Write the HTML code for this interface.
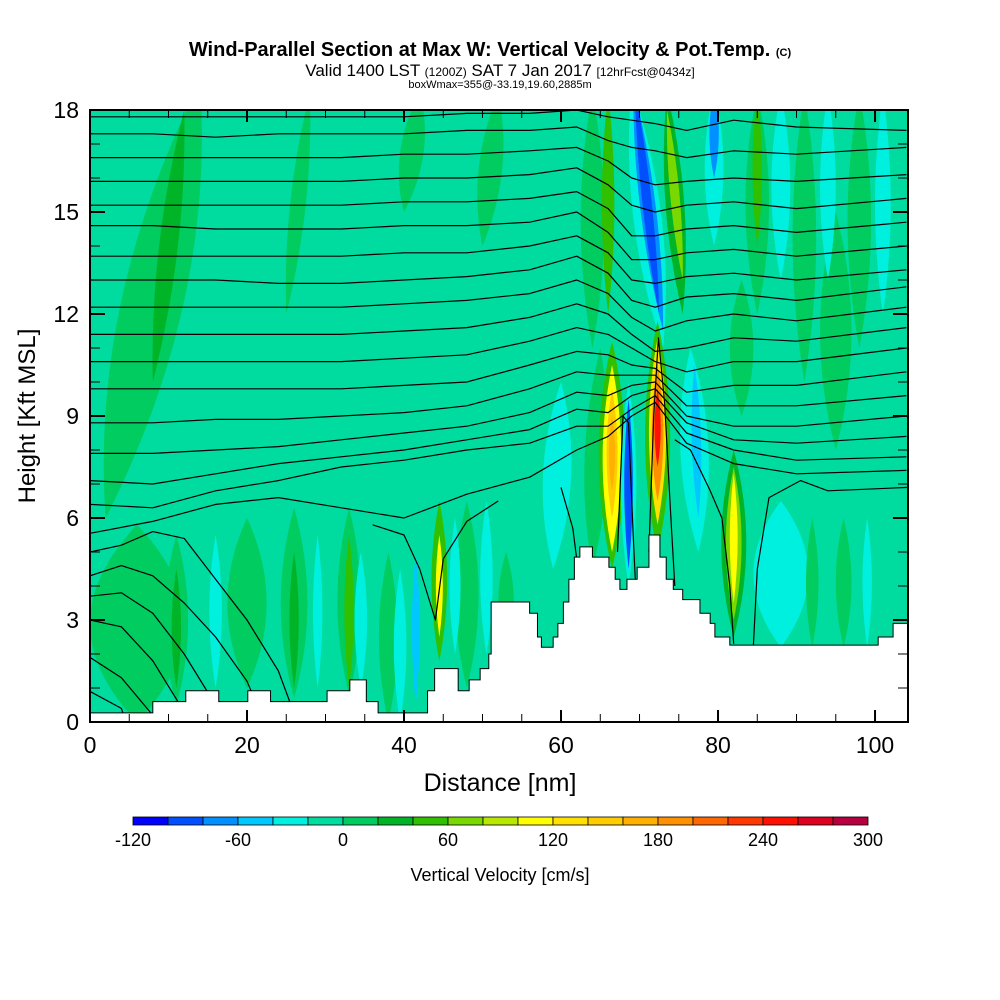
<!DOCTYPE html>
<html><head><meta charset="utf-8"><style>
html,body{margin:0;padding:0;background:#fff;}
svg{display:block;font-family:"Liberation Sans",sans-serif;}
</style></head><body>
<svg id="chart" width="1000" height="1000" viewBox="0 0 1000 1000" xmlns="http://www.w3.org/2000/svg">
<defs><clipPath id="plotclip"><rect x="90" y="110" width="818" height="612"/></clipPath></defs>
<g>
<text x="490" y="56" text-anchor="middle" font-size="20" font-weight="bold">Wind-Parallel Section at Max W: Vertical Velocity &amp; Pot.Temp. <tspan font-size="11">(C)</tspan></text>
<text x="500" y="76" text-anchor="middle" font-size="17">Valid 1400 LST <tspan font-size="12">(1200Z)</tspan> SAT 7 Jan 2017 <tspan font-size="12">[12hrFcst@0434z]</tspan></text>
<text x="500" y="88" text-anchor="middle" font-size="11">boxWmax=355@-33.19,19.60,2885m</text>
</g>
<rect x="90" y="110" width="818" height="612" fill="#00dca0"/>
<g id="fills" clip-path="url(#plotclip)"></g>
<g id="contours" clip-path="url(#plotclip)"></g>
<g id="terrain" clip-path="url(#plotclip)"></g>
<g id="axes"></g>
<rect x="90" y="110" width="818" height="612" fill="none" stroke="#000" stroke-width="2"/>
<text x="500" y="791" text-anchor="middle" font-size="25">Distance [nm]</text>
<text transform="translate(35,416) rotate(-90)" text-anchor="middle" font-size="24">Height [Kft MSL]</text>
<g id="colorbar"></g>
<text x="500" y="881" text-anchor="middle" font-size="18">Vertical Velocity [cm/s]</text>
</svg>
<script>
// ---- data ----
const xTicks = [0,20,40,60,80,100];
const yTicks = [0,3,6,9,12,15,18];
const cbLabels = [-120,-60,0,60,120,180,240,300];
const binColors = ["#0000ff","#0050ff","#0090ff","#00c8ff","#00f0e0","#00dca0","#00cc60","#00b428","#30c000","#78d800","#b8e800","#ffff00","#ffe000","#ffcc00","#ffb000","#ff9000","#ff6800","#ff3800","#ff1000","#e00020","#b80040"];
// terrain steps: start distance (nm) and height (kft)
const terrainStart = [0,8.0,12.2,16.4,20.1,23.0,30.2,33.1,35.2,36.7,43.0,43.9,46.9,48.3,49.7,50.8,51.1,56.0,57.0,57.5,59.0,59.6,60.3,61.0,61.7,62.4,64.0,66.1,66.9,67.5,68.4,69.7,71.2,72.6,73.4,74.3,75.5,77.7,79.0,79.6,81.5,100.4,102.3];
const terrainHeight = [0.27,0.6,0.92,0.6,0.92,0.6,0.92,1.24,0.6,0.27,0.92,1.57,0.92,1.24,1.57,2.0,3.53,3.2,2.5,2.2,2.5,2.9,3.53,4.2,4.85,5.15,4.85,4.55,4.2,3.9,4.2,4.55,5.5,4.85,4.2,3.9,3.6,3.2,2.9,2.5,2.26,2.5,2.9];
// velocity features: [xBottom, zBottom, xTop, zTop, halfWidth(nm), w(cm/s)]
const wFeatures = [
 [6,0,6,5.8,6,10],[20,1,20,6,2.5,10],[2,6,14,18.8,4,10],[8,10,12,18,1.2,30],[25,12,28,18.5,1.0,10],[40,15,42,18.5,1.5,10],[50,14,52,18.5,1.5,10],
 [11,0.5,11,5.5,1.5,10],[11,1,11,4.5,0.6,30],[26,0.7,26,6.3,1.7,10],[26,1,26,5,0.6,30],
 [33,0.8,33,6.3,1.5,10],[33,1,33,5.5,0.6,50],[38,0,38,5,1.2,10],[48,1,48,6.5,1.5,10],[53,2,53,5,1,10],
 [16,1,16,5.5,0.8,-30],[29,1,29,5.5,0.6,-30],[34.5,1,34.5,5,0.8,-30],[39.5,0,39.5,4.5,0.8,-30],[41.5,0.5,41.5,5,0.5,-50],
 [46.5,2,46.5,6,0.7,-30],[50.5,2,50.5,6.5,0.8,-30],
 [44.5,1.8,44.5,6.5,1.0,50],[44.5,2.5,44.5,5.5,0.45,110],
 [59,4.5,60,10,1.8,-30],[64,4.5,65,11,1.5,10],[95,8,95,15,2,10],
 [85,12,85,18.5,1.5,10],[85,14,85,18.5,0.6,50],[88,13,88,18.5,1.2,-30],
 [83,9,83,13,1.5,10],[91,10,91,18.5,1.5,10],[98,11,98,18.5,1.5,10],[101,12,101,18.5,1,-30],[94,13,94,18.5,1,-30],
 [88,2.2,88,6.5,3.5,-30],[92,2.2,92,6,0.8,10],[96,2.2,96,6,1,10],[99,2.2,99,6,0.6,-30],
 [77.5,5,76.5,11,1.8,-30],[77.5,6,77,10.5,0.6,-60],
 [82,2.5,82,8,1.6,30],[82,3,82,7.5,1.0,70],[82,3.5,82,7.3,0.5,110],
 [75.5,12,73.5,18.5,1.2,30],[75.5,13,73.5,18,0.6,70],
 [79.5,14,79.5,18.6,1.2,-30],[79.5,16,79.5,18.6,0.6,-80],
 [64,11,64,18.5,1.5,10],[66,12,66,18.5,0.8,50],
 [73,11,69,18.7,1.8,-30],[73,11.5,69.2,18.7,1.0,-70],[72.5,12,69.4,18.6,0.6,-100],
 [66.5,4.5,66.5,11.2,1.7,50],[66.5,5,66.5,10.5,1.2,110],[66.5,6,66.5,9.8,0.7,150],[66.5,6.8,66.5,9,0.4,170],
 [68.6,4,68.6,10,1.0,-30],[68.6,4.5,68.6,9.5,0.55,-90],
 [72.3,5,72.3,11.8,1.6,50],[72.3,5.8,72.3,11.3,1.1,130],[72.3,6.5,72.3,10.5,0.75,190],[72.3,7.5,72.3,9.8,0.4,250]
];
// potential temperature contours: heights (kft) at common distances
const contourX = [0,8,16,24,32,40,48,56,62,66,69,72,76,82,90,104];
const contourZ = [
 [17.8,17.8,17.8,17.8,17.8,17.8,17.9,17.9,18.0,17.8,17.7,17.6,17.4,17.7,17.5,17.4],
 [17.3,17.3,17.2,17.3,17.3,17.3,17.4,17.4,17.5,17.1,16.9,16.8,16.6,16.8,16.7,16.9],
 [16.6,16.6,16.6,16.6,16.6,16.7,16.7,16.8,16.9,16.5,16.0,15.8,15.9,16.0,15.9,16.1],
 [15.9,15.9,15.9,15.9,15.9,16.0,16.0,16.1,16.3,15.8,15.2,15.0,15.2,15.3,15.1,15.4],
 [15.2,15.2,15.2,15.2,15.2,15.3,15.3,15.4,15.6,15.1,14.3,14.3,14.5,14.6,14.4,14.7],
 [14.6,14.6,14.5,14.5,14.5,14.6,14.6,14.7,15.0,14.4,13.6,13.6,13.8,13.9,13.7,14.0],
 [13.7,13.7,13.7,13.7,13.7,13.8,13.8,14.0,14.3,13.8,13.0,12.9,13.1,13.2,13.0,13.3],
 [13.0,13.0,13.0,12.9,12.9,13.0,13.1,13.3,13.7,13.2,12.4,12.2,12.5,12.6,12.4,12.8],
 [12.2,12.2,12.2,12.2,12.2,12.3,12.4,12.6,13.0,12.6,11.9,11.5,11.8,12.0,11.8,12.2],
 [11.4,11.4,11.4,11.4,11.4,11.5,11.6,11.9,12.3,12.0,11.4,10.9,11.0,11.3,11.2,11.6],
 [10.6,10.6,10.6,10.6,10.6,10.7,10.8,11.2,11.6,11.4,11.0,10.6,10.3,10.6,10.6,11.0],
 [9.8,9.8,9.8,9.8,9.8,9.9,10.0,10.5,10.9,10.8,10.5,10.4,9.7,9.9,9.9,10.3],
 [8.8,8.8,8.9,8.9,9.0,9.1,9.3,9.8,10.3,10.2,10.2,10.2,9.3,9.3,9.3,9.6],
 [7.9,7.9,8.0,8.1,8.3,8.5,8.7,9.1,9.7,9.6,9.9,10.0,9.0,8.7,8.7,9.0],
 [7.1,7.0,7.3,7.6,7.8,8.0,8.3,8.6,9.2,9.1,9.6,9.8,8.8,8.3,8.2,8.4],
 [6.4,6.3,6.8,7.1,7.5,7.7,8.0,8.2,8.7,8.7,9.2,9.6,8.5,8.0,7.7,7.8],
 [5.55,5.9,6.4,6.6,6.3,6.0,6.7,7.2,8.0,8.4,9.0,9.4,8.2,7.6,7.3,7.4]
];
// extra contour segments as [nm, kft] points
const contourExtra = [
 [[0,5.0],[4,5.2],[8,5.6],[12,5.4],[16,4.2],[20,3.0],[24,1.5],[28,-1]],
 [[0,4.3],[4,4.6],[8,4.3],[12,3.5],[16,2.5],[20,1.2],[24,-1]],
 [[0,3.7],[4,3.8],[8,3.2],[12,2.0],[16,0.5],[18,-1]],
 [[0,3.0],[4,2.8],[8,1.8],[12,0.3],[14,-1]],
 [[0,1.9],[4,1.3],[8,0.2],[10,-1]],
 [[0,0.9],[4,0.4],[6,-1]],
 [[36,5.8],[40,5.5],[42,4.5],[44,3.0],[45,4.8],[48,5.9],[52,6.5]],
 [[84.5,2.2],[85,4.5],[86.5,6.6],[90.5,7.1],[94,6.8],[104.2,6.9]],
 [[74.5,8.3],[76.5,8.0],[79,6.8],[80.5,6.0],[81.5,4.0],[82,2.3]],
 [[60,6.9],[61.5,5.7],[62,4.8]],
 [[67.2,5.0],[67.9,9.0],[68.6,8.8],[69.2,5.5],[69.5,4.0]],
 [[71.2,5.0],[71.8,9.0],[72.4,11.3],[73.2,9.4],[74,6.0],[74.5,4.0]]
];
// ---- scales ----
const X0=90,X1=908,Y0=722,Y1=110,XMAX=104.2,ZMAX=18;
function sx(v){return X0+v*(X1-X0)/XMAX;}
function sy(v){return Y0-v*(Y0-Y1)/ZMAX;}
function binColor(w){let i=Math.floor((w+120)/20);i=Math.max(0,Math.min(20,i));return binColors[i];}
const NS="http://www.w3.org/2000/svg";
function mk(t,a,p){const e=document.createElementNS(NS,t);for(const k in a)e.setAttribute(k,a[k]);p.appendChild(e);return e;}

// fills
const fills=document.getElementById('fills');
wFeatures.forEach(f=>{
 const [xb,zb,xt,zt,hw,w]=f;
 const bx=sx(xb),by=sy(zb),tx=sx(xt),ty=sy(zt),h=hw*(X1-X0)/XMAX*4/3;
 const c1y=by+(ty-by)/3,c2y=by+2*(ty-by)/3,c1x=bx+(tx-bx)/3,c2x=bx+2*(tx-bx)/3;
 const d=`M${bx},${by} C${c1x-h},${c1y} ${c2x-h},${c2y} ${tx},${ty} C${c2x+h},${c2y} ${c1x+h},${c1y} ${bx},${by}Z`;
 const p=mk('path',{d:d,fill:binColor(w)},fills);
 
 
});
// contours
const cg=document.getElementById('contours');
function drawLine(pts){
 const d=pts.map((p,i)=>(i?'L':'M')+sx(p[0]).toFixed(1)+','+sy(p[1]).toFixed(1)).join(' ');
 const e=mk('path',{d:d,fill:'none',stroke:'#000','stroke-width':1.2,'stroke-linejoin':'round'},cg);
 
 
}
contourZ.forEach(z=>drawLine(z.map((v,i)=>[contourX[i],v])));
contourExtra.forEach(drawLine);
// terrain
const tg=document.getElementById('terrain');
let td=`M${sx(0)},${Y0+2}`;
terrainStart.forEach((s,i)=>{const e=i+1<terrainStart.length?terrainStart[i+1]:XMAX;td+=` L${sx(s)},${sy(terrainHeight[i])} L${sx(e)},${sy(terrainHeight[i])}`;});
td+=` L${X1},${Y0+2}Z`;
const tp=mk('path',{d:td,fill:'#fff',stroke:'#000','stroke-width':1},tg);


// axes
const ax=document.getElementById('axes');
for(let v=0;v<=XMAX;v+=5){
 const L=(v%20===0)?12:8,x=sx(v);
 const t1=mk('line',{x1:x,y1:Y0,x2:x,y2:Y0-L,stroke:'#000','stroke-width':v%20===0?2:1},ax);
 
 
 const t2=mk('line',{x1:x,y1:Y1,x2:x,y2:Y1+L,stroke:'#000','stroke-width':v%20===0?2:1},ax);
 
 
}
for(let v=0;v<=ZMAX;v+=1){
 const L=(v%3===0)?15:10,y=sy(v);
 const t1=mk('line',{x1:X0,y1:y,x2:X0+L,y2:y,stroke:'#000','stroke-width':v%3===0?2:1},ax);
 
 
 const t2=mk('line',{x1:X1,y1:y,x2:X1-L,y2:y,stroke:'#000','stroke-width':v%3===0?2:1},ax);
 
 
}
xTicks.forEach(v=>{const t=mk('text',{x:sx(v),y:753,'text-anchor':'middle','font-size':23},ax);t.textContent=v;
 
 });
yTicks.forEach(v=>{const t=mk('text',{x:79,y:sy(v)+8,'text-anchor':'end','font-size':23},ax);t.textContent=v;
 
 });
// colorbar
const cb=document.getElementById('colorbar');
const CB0=133,CB1=868,bw=(CB1-CB0)/binColors.length;
binColors.forEach((c,i)=>{const r=mk('rect',{x:CB0+i*bw,y:817,width:bw,height:8,fill:c,stroke:'#000','stroke-width':0.8},cb);
 
 });
cbLabels.forEach(v=>{const t=mk('text',{x:CB0+(v+120)/420*(CB1-CB0),y:846,'text-anchor':'middle','font-size':18},cb);t.textContent=v;
 
 });
</script>
</body></html>
